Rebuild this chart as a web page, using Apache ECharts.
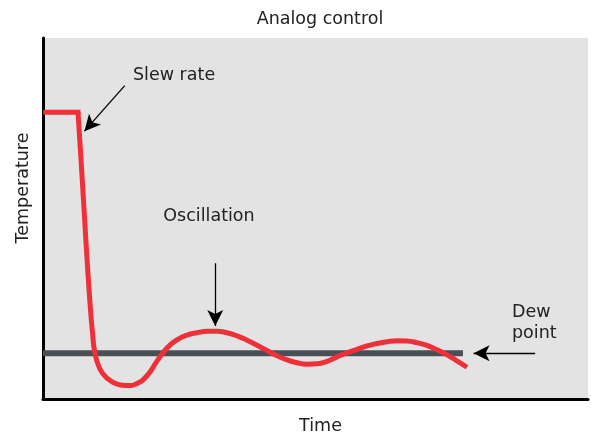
<!DOCTYPE html>
<html>
<head>
<meta charset="utf-8">
<script src="https://cdn.jsdelivr.net/npm/echarts@6/dist/echarts.min.js"></script>
<style>html,body{margin:0;padding:0;background:#fff}#c{width:591px;height:440px}</style>
</head>
<body>
<div id="c"></div>
<script>
// Temperature response (time 0-100, temperature 0-100, schematic units)
var holdTime = [0.5, 6.42];
var holdTemp = [79.4, 79.4];
var respTime = [6.42, 6.97, 7.52, 8.07, 8.62, 9.08, 9.54, 10.46, 11.74,
  13.58, 15.41, 17.25, 19.08, 20.92, 22.75, 24.59, 26.42, 28.26, 30.09,
  31.93, 33.76, 35.60, 37.43, 39.27, 41.10, 42.94, 44.77, 46.61, 48.44,
  50.28, 52.11, 53.94, 55.78, 57.61, 59.45, 61.28, 63.12, 64.95, 66.79,
  68.62, 70.46, 72.29, 74.13, 75.96, 77.80];
var respTemp = [79.40, 66.48, 52.75, 39.01, 26.65, 18.41, 12.64, 8.24, 5.77,
  4.12, 3.71, 4.30, 6.45, 10.50, 14.15, 16.40, 17.72, 18.35, 18.74,
  18.79, 18.35, 17.50, 16.29, 14.89, 13.41, 12.01, 10.82, 10.03, 9.64,
  9.75, 10.44, 11.68, 12.77, 13.74, 14.70, 15.38, 15.88, 16.15, 16.07,
  15.60, 14.84, 13.65, 12.23, 10.58, 8.79];
var dewTime = [0, 77.06];
var dewTemp = [12.64, 12.64];
// annotation arrows [from, to] in data units
var slewArrow = [[15.0, 86.8], [7.6, 74.2]];
var oscArrow = [[31.6, 37.6], [31.6, 20.2]];
var dewArrow = [[90.3, 12.64], [79.0, 12.64]];
var labels = {title: 'Analog control', x: 'Time', y: 'Temperature', slew: 'Slew rate', osc: 'Oscillation', dew: 'Dew\npoint'};

function pairs(xs, ys) { return xs.map(function (x, i) { return [x, ys[i]]; }); }
var FONT = 'DejaVu Sans';
var FS = 17.5;
var RED = '#ef3038';

var chart = echarts.init(document.getElementById('c'), null, {renderer: 'canvas'});
function arrowLine(a) {
  return {
    silent: true, symbol: ['none', 'arrow'], symbolSize: [12, 16],
    label: {show: false},
    lineStyle: {color: '#000', width: 1.3, type: 'solid'},
    data: [[{coord: a[0]}, {coord: a[1]}]]
  };
}
function txt(s, x, y, align) {
  return {type: 'text', x: x, y: y, style: {text: s, font: FS + 'px "' + FONT + '"', fill: '#222', lineHeight: 21,
    textAlign: align || 'left', textVerticalAlign: 'middle'}};
}
var yLab = txt(labels.y, 23, 188, 'center');
yLab.rotation = Math.PI / 2;
chart.setOption({
  animation: false,
  backgroundColor: '#fff',
  title: {text: labels.title, left: 315, top: 5, textAlign: 'center',
    textStyle: {fontFamily: FONT, fontSize: FS, fontWeight: 'normal', color: '#222'}},
  grid: {left: 43, right: 3, top: 38, bottom: 38, show: true, backgroundColor: '#e3e3e3', borderWidth: 0},
  xAxis: {type: 'value', min: 0, max: 100, name: labels.x, nameLocation: 'middle', nameGap: 18,
    nameTextStyle: {fontFamily: FONT, fontSize: FS, color: '#222', padding: [0, 0, 0, 10]},
    axisLine: {lineStyle: {color: '#000', width: 3}}, axisTick: {show: false}, axisLabel: {show: false}, splitLine: {show: false}},
  yAxis: {type: 'value', min: 0, max: 100,
    axisLine: {show: true, lineStyle: {color: '#000', width: 3}}, axisTick: {show: false}, axisLabel: {show: false}, splitLine: {show: false}},
  graphic: [
    yLab,
    txt(labels.slew, 133, 75),
    txt(labels.osc, 209, 216, 'center'),
    txt(labels.dew, 512, 323)
  ],
  series: [
    {type: 'line', data: pairs(dewTime, dewTemp), showSymbol: false, symbol: 'none', z: 2,
      lineStyle: {color: '#4a4f55', width: 6, cap: 'butt'}},
    {type: 'line', data: pairs(holdTime, holdTemp), showSymbol: false, symbol: 'none', z: 3,
      lineStyle: {color: RED, width: 5, cap: 'square'}},
    {type: 'line', data: pairs(respTime, respTemp), showSymbol: false, symbol: 'none', smooth: 0.5, z: 3,
      lineStyle: {color: RED, width: 5, cap: 'butt'}},
    {type: 'line', data: [], markLine: arrowLine(slewArrow)},
    {type: 'line', data: [], markLine: arrowLine(oscArrow)},
    {type: 'line', data: [], markLine: arrowLine(dewArrow)}
  ]
});
</script>
</body>
</html>
